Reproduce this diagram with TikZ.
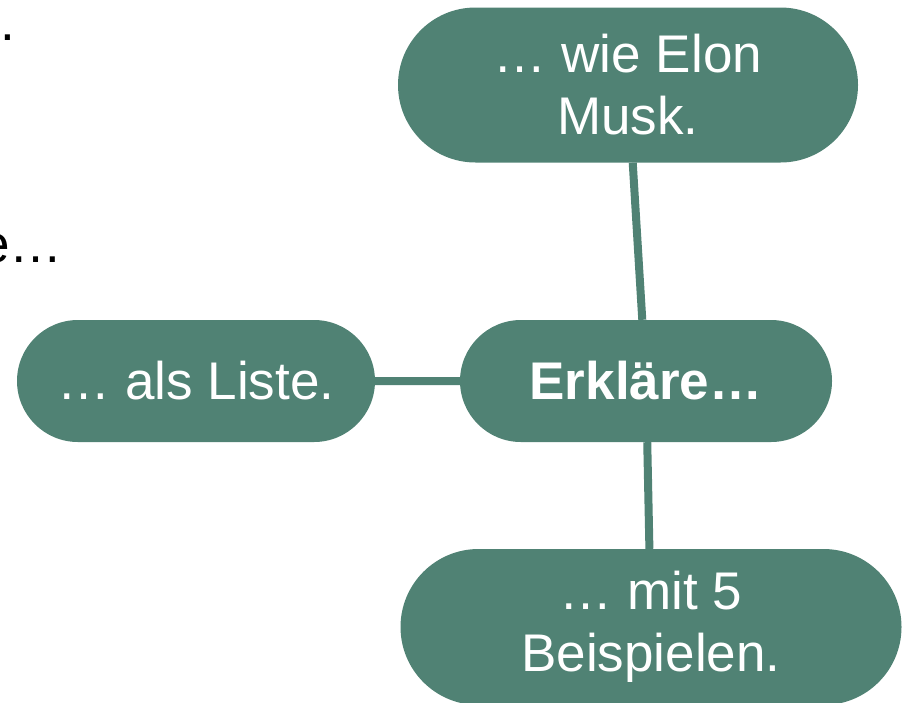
\documentclass[tikz,border=0pt]{standalone}
\usepackage{fontspec}
\setmainfont{Liberation Sans}
\usetikzlibrary{shapes.misc}
\definecolor{mapgreen}{RGB}{80,130,116}

\begin{document}
\begin{tikzpicture}[x=1pt,y=-1pt,
  idea/.style={rounded rectangle, fill=mapgreen, text=white, inner sep=0pt,
    align=center, font=\fontsize{53}{62}\selectfont},
  link/.style={mapgreen, line width=8pt}]
\useasboundingbox (0,0) rectangle (909,702);
% cut-off text at the left edge
\node[anchor=base east, inner sep=0pt, font=\fontsize{53}{62}\selectfont] (dot) at (15,40) {.};
\node[anchor=base east, inner sep=0pt, font=\fontsize{53}{62}\selectfont] (ell) at (63,262) {e…};
% mind map
\node[idea, minimum width=372pt, minimum height=122pt, font=\fontsize{53}{62}\selectfont\bfseries] (main) at (646,381) {Erkläre…};
\node[idea, minimum width=460pt, minimum height=155pt] (musk) at (628,85) {… wie Elon\\Musk.};
\node[idea, minimum width=358pt, minimum height=122pt] (list) at (196,381) {… als Liste.};
\node[idea, minimum width=501pt, minimum height=156pt] (five) at (651,627) {… mit 5\\Beispielen.};
\draw[link] (musk) -- (main);
\draw[link] (list) -- (main);
\draw[link] (main) -- (five);
\end{tikzpicture}
\end{document}
